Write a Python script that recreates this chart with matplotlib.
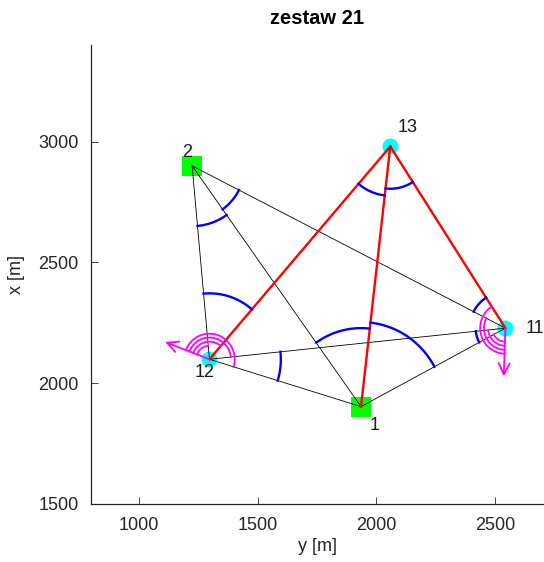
import numpy as np
import matplotlib
matplotlib.use("Agg")
import matplotlib.pyplot as plt

plt.rcParams['font.family'] = ['Liberation Sans', 'DejaVu Sans']

# station coordinates (geodetic: y = east, horizontal ; x = north, vertical)
names = ['1', '2', '11', '12', '13']
pt_y = [1935, 1225, 2542, 1298, 2058]
pt_x = [1903, 2900, 2228, 2099, 2980]
fixed = ['1', '2']              # known points (green squares)
new = ['11', '12', '13']        # determined points (cyan circles)

# observed lines
black_lines = [('2', '12'), ('2', '1'), ('2', '11'), ('12', '1'), ('12', '11'), ('1', '11')]
red_lines = [('12', '13'), ('1', '13'), ('11', '13')]

# measured angles: (vertex, left target, right target)
angles = [('2', '11', '1'), ('2', '1', '12'),
          ('12', '2', '13'), ('12', '11', '1'),
          ('13', '12', '1'), ('13', '1', '11'),
          ('11', '2', '13'), ('11', '12', '1'),
          ('1', '2', '13'), ('1', '13', '11')]
angle_r = [221, 250, 273, 300, 204, 175, 150, 125, 325, 350]

# direction sets: station, orientation azimuth [deg], targets
dir_station = ['12', '11']
dir_orient = [291, 182]
dir_targets = [['2', '13', '11', '1'], ['1', '12', '2', '13']]

P = {n: np.array([y, x], dtype=float) for n, y, x in zip(names, pt_y, pt_x)}


def ang(a, b):
    d = P[b] - P[a]
    return np.arctan2(d[1], d[0])


fig = plt.figure(figsize=(5.44, 5.62), dpi=100)
ax = fig.add_axes([91 / 544, 58 / 562, 452 / 544, 459 / 562])

# markers underneath
for n in fixed:
    ax.plot(P[n][0], P[n][1], 's', color='#00ff00', markersize=14.4, markeredgewidth=0, zorder=1)
for n in new:
    ax.plot(P[n][0], P[n][1], 'o', color='#00ffff', markersize=11.5, markeredgewidth=0, zorder=1)

for a, b in black_lines:
    ax.plot([P[a][0], P[b][0]], [P[a][1], P[b][1]], color='k', lw=0.6, zorder=2)
for a, b in red_lines:
    ax.plot([P[a][0], P[b][0]], [P[a][1], P[b][1]], color='#ff0000', lw=1.7, zorder=3)

# angle arcs
for (v, l, r), rad in zip(angles, angle_r):
    a0 = ang(v, l)
    d = (ang(v, r) - a0 + np.pi) % (2 * np.pi) - np.pi
    t = np.linspace(a0, a0 + d, 80)
    ax.plot(P[v][0] + rad * np.cos(t), P[v][1] + rad * np.sin(t), color='#0000ff', lw=1.7, zorder=4)

# direction sets with orientation arrows
radii = [56, 73, 90, 106]
for st, az, targets in zip(dir_station, dir_orient, dir_targets):
    a0 = np.deg2rad(90 - az)
    c = P[st]
    sweeps = sorted((a0 - ang(st, tg)) % (2 * np.pi) for tg in targets)
    for sw, rad in zip(sweeps, radii):
        t = np.linspace(a0, a0 - sw, 80)
        ax.plot(c[0] + rad * np.cos(t), c[1] + rad * np.sin(t), color='#ff00ff', lw=1.3, zorder=5)
    end = c + 200 * np.array([np.cos(a0), np.sin(a0)])
    ax.annotate('', xy=end, xytext=c,
                arrowprops=dict(arrowstyle='->', color='#ff00ff', lw=1.3, mutation_scale=20,
                                shrinkA=0, shrinkB=0), zorder=5)

# point labels
offsets = {'1': (14, -19), '2': (-5, 13), '11': (30, 0), '12': (-5, -13), '13': (17, 19)}
for n in names:
    ax.annotate(n, xy=P[n], xytext=offsets[n], textcoords='offset pixels',
                ha='center', va='center', fontsize=13, color='#1a1a1a', zorder=6)

ax.set_xlim(800, 2700)
ax.set_ylim(1500, 3400)
ax.set_xticks([1000, 1500, 2000, 2500])
ax.set_yticks([1500, 2000, 2500, 3000])
ax.tick_params(direction='in', length=5, width=0.6, pad=9, labelsize=13, colors='#262626')
for s in ['top', 'right']:
    ax.spines[s].set_visible(False)
for s in ['left', 'bottom']:
    ax.spines[s].set_linewidth(0.9)
    ax.spines[s].set_color('#262626')

ax.set_xlabel('y [m]', fontsize=13, color='#262626')
ax.set_ylabel('x [m]', fontsize=13, color='#262626')
ax.xaxis.set_label_coords(0.5, -0.073)
ax.yaxis.set_label_coords(-0.145, 0.5)
fig.text(317 / 544, 1 - 18 / 562, 'zestaw 21', ha='center', va='center', fontsize=14.5, fontweight='bold')

fig.savefig('out.png', dpi=100)
